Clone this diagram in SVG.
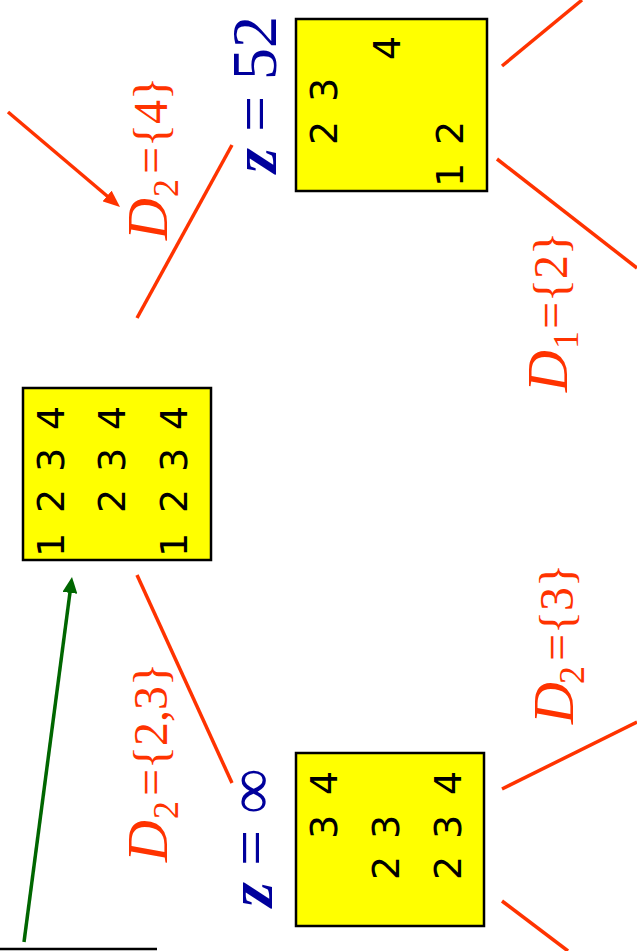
<svg xmlns="http://www.w3.org/2000/svg" width="637" height="951" viewBox="0 0 637 951">
  <style>
    .box { fill: #FFFF00; stroke: #000000; stroke-width: 2.5; }
    .dig { font-family: "DejaVu Sans", "Liberation Sans", sans-serif; font-size: 38px; fill: #000000; text-anchor: middle; }
    .edge { stroke: #FF3300; stroke-width: 3.5; fill: none; }
    .back { stroke: #006600; stroke-width: 3.5; fill: none; }
    .lbl { font-family: "Liberation Serif", "Times New Roman", serif; fill: #FF3300; font-size: 48px; }
    .lbl .v { font-style: italic; font-size: 58px; }
    .lbl .s { font-size: 36px; }
    .zl { font-family: "Liberation Serif", "Times New Roman", serif; fill: #00009C; font-size: 64px; }
    .zl .v { font-style: italic; font-weight: bold; }
  </style>
  <defs>
    <marker id="headRed" markerUnits="userSpaceOnUse" markerWidth="17" markerHeight="14" refX="7" refY="7" orient="auto">
      <path d="M0,0 L17,7 L0,14 z" fill="#FF3300"/>
    </marker>
    <marker id="headGreen" markerUnits="userSpaceOnUse" markerWidth="16" markerHeight="15" refX="6" refY="7.5" orient="auto">
      <path d="M0,0 L16,7.5 L0,15 z" fill="#006600"/>
    </marker>
  </defs>

  <!-- connectors -->
  <g id="connectors">
    <line class="edge" x1="8" y1="112" x2="112.4" y2="200.5" marker-end="url(#headRed)"/>
    <line class="edge" x1="137" y1="318" x2="232" y2="145"/>
    <line class="edge" x1="502" y1="66" x2="582" y2="0"/>
    <line class="edge" x1="497" y1="159" x2="637" y2="268"/>
    <line class="edge" x1="137" y1="575" x2="232" y2="783"/>
    <line class="edge" x1="502" y1="789" x2="637" y2="722"/>
    <line class="edge" x1="502" y1="901" x2="568" y2="951"/>
    <line class="back" x1="24" y1="942" x2="70.7" y2="586.9" marker-end="url(#headGreen)"/>
    <line x1="0" y1="949" x2="157" y2="949" stroke="#000000" stroke-width="2.5"/>
  </g>

  <!-- root node: full domains -->
  <g id="node-root">
    <rect class="box" x="23" y="388" width="188" height="172"/>
    <text class="dig" transform="translate(50,545) rotate(-90)" dy="0.36em">1</text>
    <text class="dig" transform="translate(50,501) rotate(-90)" dy="0.36em">2</text>
    <text class="dig" transform="translate(50,460) rotate(-90)" dy="0.36em">3</text>
    <text class="dig" transform="translate(50,418) rotate(-90)" dy="0.36em">4</text>
    <text class="dig" transform="translate(111,501) rotate(-90)" dy="0.36em">2</text>
    <text class="dig" transform="translate(111,460) rotate(-90)" dy="0.36em">3</text>
    <text class="dig" transform="translate(111,418) rotate(-90)" dy="0.36em">4</text>
    <text class="dig" transform="translate(173,545) rotate(-90)" dy="0.36em">1</text>
    <text class="dig" transform="translate(173,501) rotate(-90)" dy="0.36em">2</text>
    <text class="dig" transform="translate(173,460) rotate(-90)" dy="0.36em">3</text>
    <text class="dig" transform="translate(173,418) rotate(-90)" dy="0.36em">4</text>
  </g>

  <!-- branch D2={4}, z = 52 -->
  <g id="node-z52">
    <rect class="box" x="296" y="19" width="191" height="172"/>
    <text class="dig" transform="translate(323,133) rotate(-90)" dy="0.36em">2</text>
    <text class="dig" transform="translate(323,90) rotate(-90)" dy="0.36em">3</text>
    <text class="dig" transform="translate(386,48) rotate(-90)" dy="0.36em">4</text>
    <text class="dig" transform="translate(449,175) rotate(-90)" dy="0.36em">1</text>
    <text class="dig" transform="translate(449,133) rotate(-90)" dy="0.36em">2</text>
  </g>

  <!-- branch D2={2,3}, z = infinity -->
  <g id="node-zinf">
    <rect class="box" x="296" y="753" width="188" height="173"/>
    <text class="dig" transform="translate(323,783) rotate(-90)" dy="0.36em">4</text>
    <text class="dig" transform="translate(323,827) rotate(-90)" dy="0.36em">3</text>
    <text class="dig" transform="translate(385,827) rotate(-90)" dy="0.36em">3</text>
    <text class="dig" transform="translate(385,868) rotate(-90)" dy="0.36em">2</text>
    <text class="dig" transform="translate(447,783) rotate(-90)" dy="0.36em">4</text>
    <text class="dig" transform="translate(447,827) rotate(-90)" dy="0.36em">3</text>
    <text class="dig" transform="translate(447,868) rotate(-90)" dy="0.36em">2</text>
  </g>

  <!-- edge labels -->
  <g id="labels">
    <text class="lbl" transform="translate(167,240) rotate(-90)"><tspan class="v" x="0">D</tspan><tspan class="s" x="43" dy="11">2</tspan><tspan x="66" dy="-11">={4}</tspan></text>
    <text class="lbl" transform="translate(567,392) rotate(-90)"><tspan class="v" x="0">D</tspan><tspan class="s" x="43" dy="11">1</tspan><tspan x="63" dy="-11">={2}</tspan></text>
    <text class="lbl" transform="translate(573,724) rotate(-90)"><tspan class="v" x="0">D</tspan><tspan class="s" x="40" dy="11">2</tspan><tspan x="63" dy="-11">={3}</tspan></text>
    <text class="lbl" transform="translate(167,862) rotate(-90)"><tspan class="v" x="0">D</tspan><tspan class="s" x="43" dy="11">2</tspan><tspan x="66" dy="-11">={2,3}</tspan></text>
    <text class="zl" transform="translate(276,173) rotate(-90)"><tspan class="v">z</tspan> = 52</text>
    <text class="zl" transform="translate(272,907) rotate(-90)"><tspan class="v">z</tspan> = ∞</text>
  </g>
</svg>
